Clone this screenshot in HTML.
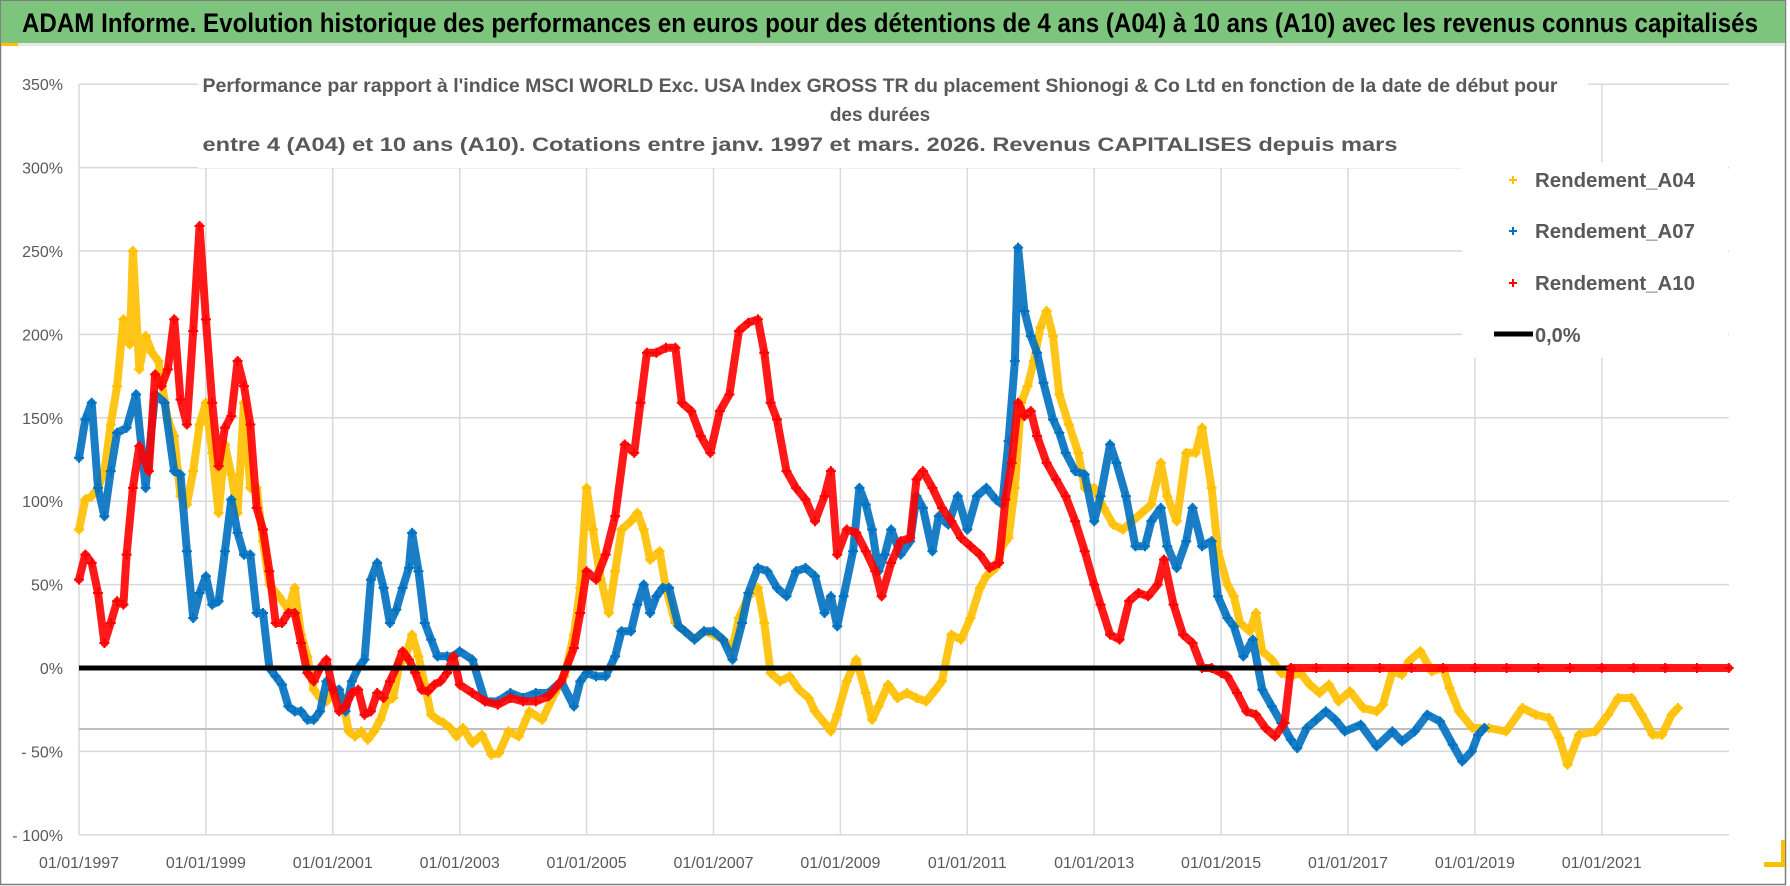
<!DOCTYPE html>
<html><head><meta charset="utf-8"><style>
html,body{margin:0;padding:0;background:#fff;}
svg{display:block;font-family:"Liberation Sans",sans-serif;}
</style></head><body>
<svg id="chart" width="1790" height="886" viewBox="0 0 1790 886" xmlns="http://www.w3.org/2000/svg">
<rect x="0" y="0" width="1790" height="886" fill="#fff"/>
<rect x="0.5" y="0.5" width="1785" height="884" fill="none" stroke="#7f7f7f" stroke-width="1.5"/>
<rect x="1" y="1" width="1784" height="42" fill="#7dc57c"/>
<rect x="1" y="43" width="1784" height="3" fill="#e6e6e6"/>
<rect x="1" y="43" width="17" height="3" fill="#ffc000"/>
<text x="22" y="32" font-size="27" font-weight="bold" fill="#000" textLength="1736" lengthAdjust="spacingAndGlyphs">ADAM Informe. Evolution historique des performances en euros pour des détentions de 4 ans (A04) à 10 ans (A10) avec les revenus connus capitalisés</text>
<g id="grid"></g>
<line x1="79" y1="729" x2="1729" y2="729" stroke="#bfbfbf" stroke-width="2"/>
<g id="series"></g>
<rect x="198" y="52" width="1390" height="116" fill="#fff"/>
<g fill="#595959" font-weight="bold" font-size="19" text-anchor="middle">
<text x="880" y="92" textLength="1355" lengthAdjust="spacingAndGlyphs">Performance par rapport à l'indice MSCI WORLD Exc. USA Index GROSS TR  du placement Shionogi &amp; Co Ltd en fonction de la date de début pour</text>
<text x="880" y="121">des durées</text>
<text x="800" y="151" textLength="1195" lengthAdjust="spacingAndGlyphs">entre 4 (A04) et 10 ans (A10).  Cotations entre janv. 1997 et mars. 2026. Revenus CAPITALISES depuis mars</text>
</g>
<rect x="1462" y="162" width="266" height="196" fill="#fff"/>
<g font-size="20" font-weight="bold" fill="#595959">
<g><path d="M1509 180h8M1513 176v8" stroke="#ffc000" stroke-width="2"/><text x="1535" y="187" textLength="160" lengthAdjust="spacingAndGlyphs">Rendement_A04</text></g>
<g><path d="M1509 231h8M1513 227v8" stroke="#0070c0" stroke-width="2"/><text x="1535" y="238" textLength="160" lengthAdjust="spacingAndGlyphs">Rendement_A07</text></g>
<g><path d="M1509 283h8M1513 279v8" stroke="#ff0000" stroke-width="2"/><text x="1535" y="290" textLength="160" lengthAdjust="spacingAndGlyphs">Rendement_A10</text></g>
<g><line x1="1494" y1="334" x2="1533" y2="334" stroke="#000" stroke-width="5"/><text x="1535" y="342">0,0%</text></g>
</g>
<g id="yaxis" font-size="16" fill="#595959" text-anchor="end"></g>
<g id="xaxis" font-size="16" fill="#595959" text-anchor="middle"></g>
<rect x="1764" y="862" width="21" height="5" fill="#ffc000"/>
<rect x="1781" y="840" width="4" height="27" fill="#ffc000"/>
</svg>
<script>
const yTicks = [350, 300, 250, 200, 150, 100, 50, 0, -50, -100];
const yTickLabels = ["350%","300%","250%","200%","150%","100%","50%","0%","- 50%","- 100%"];
const xTicks = [1997, 1999, 2001, 2003, 2005, 2007, 2009, 2011, 2013, 2015, 2017, 2019, 2021];
const xTickLabels = ["01/01/1997","01/01/1999","01/01/2001","01/01/2003","01/01/2005","01/01/2007","01/01/2009","01/01/2011","01/01/2013","01/01/2015","01/01/2017","01/01/2019","01/01/2021"];

const a04Years = [1997.0,1997.1,1997.2,1997.3,1997.4,1997.5,1997.6,1997.7,1997.8,1997.85,1997.95,1998.05,1998.15,1998.25,1998.4,1998.5,1998.6,1998.7,1998.8,1998.9,1999.0,1999.1,1999.2,1999.3,1999.4,1999.5,1999.6,1999.7,1999.8,1999.9,2000.0,2000.15,2000.3,2000.4,2000.5,2000.6,2000.7,2000.8,2000.9,2001.0,2001.15,2001.25,2001.35,2001.45,2001.55,2001.65,2001.75,2001.85,2001.95,2002.05,2002.15,2002.25,2002.35,2002.45,2002.55,2002.65,2002.75,2002.85,2002.95,2003.05,2003.2,2003.35,2003.5,2003.62,2003.77,2003.93,2004.1,2004.3,2004.5,2004.65,2004.8,2004.9,2005.0,2005.1,2005.2,2005.35,2005.45,2005.55,2005.7,2005.8,2005.9,2006.0,2006.15,2006.25,2006.4,2006.55,2006.7,2006.85,2007.0,2007.15,2007.3,2007.4,2007.55,2007.7,2007.8,2007.9,2008.05,2008.2,2008.35,2008.5,2008.6,2008.75,2008.85,2008.95,2009.1,2009.25,2009.4,2009.5,2009.6,2009.75,2009.9,2010.05,2010.2,2010.35,2010.5,2010.6,2010.75,2010.9,2011.05,2011.2,2011.3,2011.45,2011.55,2011.65,2011.75,2011.85,2011.95,2012.05,2012.15,2012.25,2012.35,2012.45,2012.6,2012.75,2012.85,2013.0,2013.15,2013.3,2013.45,2013.6,2013.75,2013.9,2014.05,2014.15,2014.3,2014.45,2014.6,2014.7,2014.85,2014.95,2015.1,2015.2,2015.3,2015.45,2015.55,2015.65,2015.8,2015.95,2016.1,2016.25,2016.4,2016.55,2016.7,2016.85,2017.03,2017.24,2017.45,2017.55,2017.7,2017.85,2017.96,2018.14,2018.32,2018.5,2018.6,2018.75,2018.96,2019.22,2019.49,2019.75,2019.96,2020.17,2020.33,2020.46,2020.64,2020.9,2021.1,2021.26,2021.47,2021.63,2021.8,2021.95,2022.1,2022.2];
const a04Values = [83,101,103,108,118,146,169,209,194,250,179,199,189,184,149,139,103,98,118,146,159,129,93,134,116,93,159,108,108,76,50,43,35,48,20,7,-13,-18,-20,-15,-18,-38,-41,-38,-43,-38,-31,-20,-18,2,7,20,7,-10,-28,-31,-33,-36,-41,-36,-45,-40,-52,-51,-38,-41,-26,-31,-15,-5,20,48,108,83,58,33,58,83,88,93,83,65,70,48,27,22,17,22,20,17,12,30,43,48,27,-3,-8,-5,-13,-18,-26,-33,-38,-28,-8,5,-15,-31,-23,-10,-18,-15,-18,-20,-13,-8,20,17,30,48,55,60,73,78,108,159,169,184,204,214,199,164,146,129,108,108,96,86,83,88,93,98,123,103,88,129,129,144,108,70,50,43,27,22,33,10,5,-3,-5,-3,-10,-15,-10,-20,-14,-24,-26,-22,-2,-4,4,10,-2,0,-12,-26,-36,-36,-38,-24,-28,-30,-42,-58,-40,-38,-28,-18,-18,-28,-40,-40,-28,-24];

const a07Years = [1997.0,1997.1,1997.2,1997.3,1997.4,1997.5,1997.6,1997.75,1997.9,1998.05,1998.2,1998.35,1998.5,1998.6,1998.7,1998.8,1998.9,1999.0,1999.1,1999.2,1999.3,1999.4,1999.5,1999.6,1999.7,1999.8,1999.9,2000.0,2000.1,2000.2,2000.3,2000.4,2000.5,2000.6,2000.7,2000.8,2000.9,2001.0,2001.1,2001.2,2001.3,2001.4,2001.5,2001.6,2001.7,2001.8,2001.9,2002.0,2002.1,2002.2,2002.25,2002.35,2002.45,2002.55,2002.65,2002.8,2002.9,2003.0,2003.2,2003.4,2003.6,2003.8,2004.0,2004.2,2004.4,2004.6,2004.8,2004.9,2005.0,2005.15,2005.3,2005.45,2005.55,2005.7,2005.8,2005.9,2006.0,2006.1,2006.2,2006.3,2006.45,2006.55,2006.7,2006.85,2007.0,2007.15,2007.3,2007.45,2007.55,2007.7,2007.85,2008.0,2008.15,2008.3,2008.45,2008.6,2008.75,2008.85,2008.95,2009.05,2009.2,2009.3,2009.4,2009.5,2009.6,2009.7,2009.8,2009.95,2010.1,2010.2,2010.3,2010.45,2010.55,2010.7,2010.85,2011.0,2011.15,2011.3,2011.45,2011.55,2011.65,2011.75,2011.8,2011.9,2012.0,2012.1,2012.2,2012.35,2012.45,2012.55,2012.7,2012.85,2013.0,2013.1,2013.25,2013.35,2013.5,2013.65,2013.8,2013.9,2014.05,2014.15,2014.3,2014.45,2014.55,2014.7,2014.85,2014.95,2015.1,2015.2,2015.35,2015.5,2015.65,2015.8,2015.95,2016.1,2016.2,2016.35,2016.5,2016.65,2016.8,2016.95,2017.2,2017.45,2017.7,2017.85,2018.05,2018.25,2018.45,2018.65,2018.8,2018.95,2019.05,2019.15];
const a07Values = [126,149,159,108,91,118,141,144,164,108,164,159,118,116,70,30,45,55,38,40,70,101,81,68,68,33,33,0,-5,-10,-23,-26,-26,-31,-31,-26,-8,-13,-13,-26,-8,0,5,53,63,48,27,35,48,60,81,58,27,17,7,7,7,10,5,-20,-20,-15,-18,-15,-15,-8,-23,-8,-3,-5,-5,7,22,22,38,50,33,43,48,48,25,22,17,22,22,17,5,27,45,60,58,48,43,58,60,55,33,43,25,43,70,108,98,83,58,68,83,68,76,103,96,70,91,86,103,83,103,108,101,98,136,184,252,214,199,189,171,149,141,129,118,116,88,103,134,123,103,73,73,88,96,73,60,76,96,73,76,43,30,25,7,17,-13,-23,-33,-43,-48,-36,-31,-26,-31,-38,-34,-47,-38,-44,-38,-28,-32,-46,-56,-50,-40,-36];

const a10Years = [1997.0,1997.1,1997.2,1997.3,1997.4,1997.5,1997.6,1997.7,1997.75,1997.85,1997.95,1998.1,1998.2,1998.3,1998.4,1998.5,1998.6,1998.7,1998.8,1998.9,1999.0,1999.1,1999.2,1999.3,1999.4,1999.5,1999.6,1999.7,1999.8,1999.9,2000.0,2000.1,2000.2,2000.3,2000.4,2000.5,2000.6,2000.7,2000.8,2000.9,2001.0,2001.1,2001.2,2001.3,2001.4,2001.5,2001.6,2001.7,2001.8,2001.9,2002.0,2002.1,2002.2,2002.3,2002.4,2002.5,2002.6,2002.7,2002.8,2002.9,2003.0,2003.2,2003.4,2003.6,2003.8,2004.0,2004.2,2004.4,2004.6,2004.8,2004.9,2005.0,2005.15,2005.3,2005.45,2005.6,2005.75,2005.85,2005.95,2006.1,2006.25,2006.4,2006.5,2006.65,2006.8,2006.95,2007.1,2007.25,2007.4,2007.55,2007.7,2007.8,2007.9,2008.0,2008.15,2008.3,2008.45,2008.6,2008.75,2008.85,2008.95,2009.1,2009.25,2009.4,2009.55,2009.65,2009.8,2009.95,2010.1,2010.2,2010.3,2010.45,2010.6,2010.75,2010.9,2011.05,2011.2,2011.35,2011.5,2011.6,2011.7,2011.8,2011.9,2012.0,2012.1,2012.25,2012.4,2012.55,2012.7,2012.85,2013.0,2013.1,2013.25,2013.4,2013.55,2013.7,2013.85,2014.0,2014.1,2014.25,2014.4,2014.55,2014.7,2014.85,2015.0,2015.1,2015.25,2015.4,2015.55,2015.7,2015.85,2016.0,2016.1];
const a10Values = [53,68,63,45,15,27,40,38,68,108,133,118,176,169,179,209,161,146,202,265,209,159,121,144,151,184,169,146,96,83,58,27,27,33,33,15,-3,-8,0,5,-13,-26,-23,-15,-13,-28,-26,-15,-18,-8,0,10,5,-3,-13,-14,-10,-8,-3,7,-10,-15,-20,-22,-18,-20,-20,-17,-8,12,33,58,53,68,91,134,129,159,189,189,192,192,159,154,139,129,154,164,202,207,209,189,159,149,118,108,101,88,103,118,68,83,81,70,58,43,63,76,78,113,118,108,96,88,78,73,68,60,63,101,123,159,151,154,139,123,113,103,88,70,50,38,20,17,40,45,43,50,65,38,20,15,0,0,-3,-5,-15,-26,-28,-36,-41,-33,0];
const a10ZeroYears = [2016.1,2016.5,2017.0,2017.5,2018.0,2018.5,2019.0,2019.5,2020.0,2020.5,2021.0,2021.5,2022.0,2022.5,2023.0];
const a10ZeroValues = [0,0,0,0,0,0,0,0,0,0,0,0,0,0,0];
const zeroLineYears = [1997.0, 2016.1];
const zeroLineValues = [0, 0];

const NS = "http://www.w3.org/2000/svg";
const X0 = 79, X1 = 1729, Y0 = 668;
function xScale(year){ return X0 + (year - 1997) * 63.45; }
function yScale(v){ return Y0 - v * 1.668; }
function mk(tag, attrs, parent){ const e = document.createElementNS(NS, tag); for (const k in attrs) e.setAttribute(k, attrs[k]); parent.appendChild(e); return e; }

const grid = document.getElementById('grid');
yTicks.forEach((t) => {
  const l = mk('line', {x1: X0, x2: X1, y1: yScale(t), y2: yScale(t), stroke: '#d9d9d9', 'stroke-width': 1.5}, grid);
  
  
});
xTicks.forEach((t) => {
  const l = mk('line', {x1: xScale(t), x2: xScale(t), y1: yScale(350), y2: yScale(-100), stroke: '#d9d9d9', 'stroke-width': 1.5}, grid);
  
  
});

const yaxis = document.getElementById('yaxis');
yTicks.forEach((t, i) => {
  const tx = mk('text', {x: 63, y: yScale(t) + 6}, yaxis);
  tx.textContent = yTickLabels[i];
  
  
});
const xaxis = document.getElementById('xaxis');
xTicks.forEach((t, i) => {
  const tx = mk('text', {x: xScale(t), y: 868}, xaxis);
  tx.textContent = xTickLabels[i];
  
  
});

const layer = document.getElementById('series');
function drawSeries(years, values, color, name, width){
  const g = mk('g', {}, layer);
  
  
  const pts = years.map((yr, i) => xScale(yr).toFixed(1) + ',' + yScale(values[i]).toFixed(1)).join(' ');
  const pl = mk('polyline', {points: pts, fill: 'none', stroke: color, 'stroke-width': width, 'stroke-linejoin': 'round', 'stroke-linecap': 'round', opacity: 0.9}, g);
  
  
  years.forEach((yr, i) => {
    const cx = xScale(yr), cy = yScale(values[i]);
    const p = mk('path', {d: `M${cx-5},${cy}h10M${cx},${cy-5}v10`, stroke: color, 'stroke-width': 2}, g);
    
    
  });
}
drawSeries(a04Years, a04Values, '#ffc000', 'series-a04', 8);
drawSeries(a07Years, a07Values, '#0070c0', 'series-a07', 8);
drawSeries(a10Years, a10Values, '#ff0000', 'series-a10', 8);
const zl = mk('line', {x1: xScale(zeroLineYears[0]), x2: xScale(zeroLineYears[1]), y1: yScale(zeroLineValues[0]), y2: yScale(zeroLineValues[1]), stroke: '#000', 'stroke-width': 5}, layer);


drawSeries(a10ZeroYears, a10ZeroValues, '#ff0000', 'series-a10-flat', 8);
</script>
</body></html>
